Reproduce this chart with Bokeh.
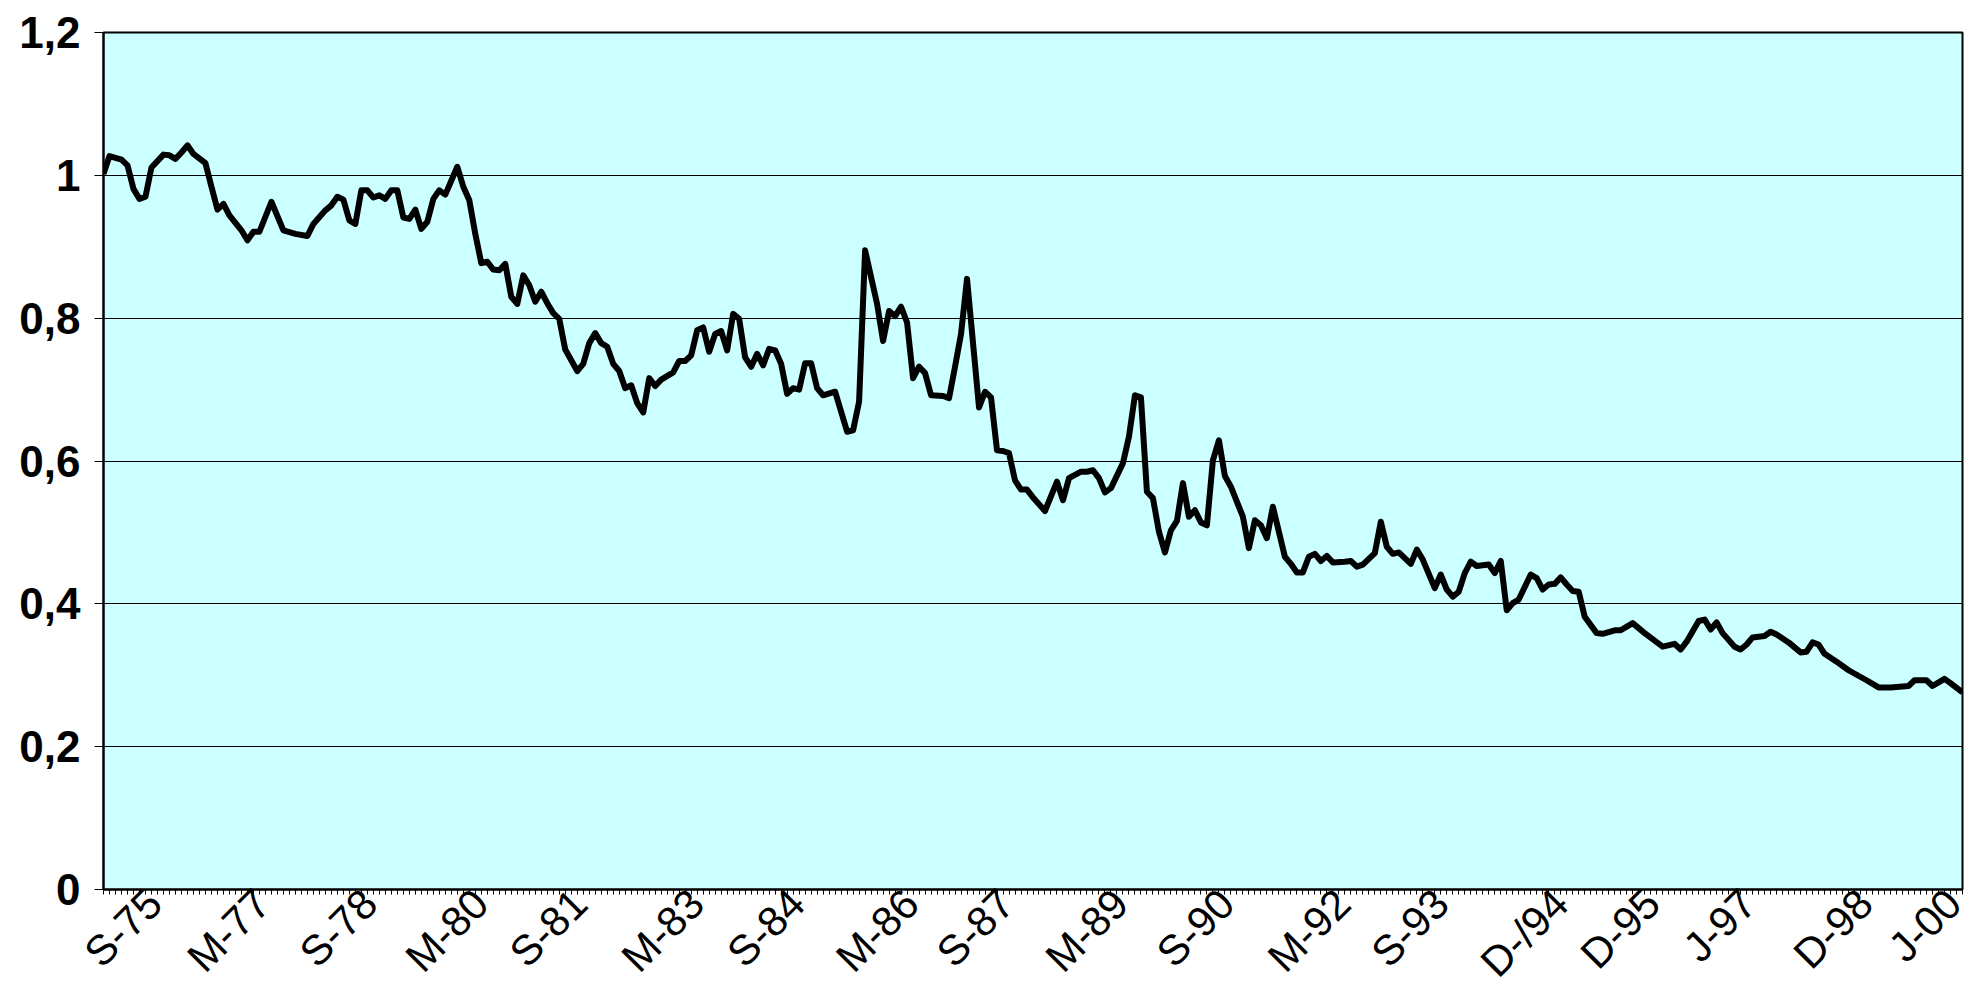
import math
from bokeh.plotting import figure
from bokeh.models import Range1d, FixedTicker, CustomJSTickFormatter
from bokeh.embed import file_html
from bokeh.resources import INLINE

# ---- data (category index along the axis, value) ----
month_idx = [0, 1, 3, 4, 5, 6, 7, 8, 10, 11, 12, 13, 14, 15, 17, 18, 19, 20, 21, 23,
             24, 25, 26, 28, 30, 32, 34, 35, 37, 38, 39, 40, 41, 42, 43, 44, 45, 46, 47, 48,
             49, 50, 51, 52, 53, 54, 55, 56, 57, 59, 60, 61, 62, 63, 64, 65, 66, 67, 68, 69,
             70, 71, 72, 73, 74, 75, 76, 77, 79, 80, 81, 82, 83, 84, 85, 86, 87, 88, 89, 90,
             91, 92, 93, 95, 96, 97, 98, 99, 100, 101, 102, 103, 104, 105, 106, 107, 108, 109, 110, 111,
             112, 113, 114, 115, 116, 117, 118, 119, 120, 122, 124, 125, 126, 127, 129, 130, 131, 132, 133, 134,
             135, 136, 137, 138, 140, 141, 142, 143, 144, 146, 147, 148, 149, 150, 151, 152, 153, 154, 155, 157,
             159, 160, 161, 163, 164, 165, 166, 167, 168, 170, 171, 172, 173, 174, 175, 176, 177, 178, 179, 180,
             181, 182, 183, 184, 185, 186, 187, 188, 190, 191, 192, 193, 194, 195, 197, 198, 199, 200, 201, 202,
             203, 204, 205, 207, 208, 209, 210, 212, 213, 214, 215, 216, 218, 219, 220, 222, 223, 224, 225, 226,
             227, 228, 229, 231, 232, 233, 234, 235, 236, 238, 239, 240, 241, 242, 243, 244, 245, 246, 247, 249,
             250, 252, 253, 255, 257, 260, 262, 263, 264, 266, 267, 268, 269, 270, 272, 273, 274, 275, 277, 278,
             279, 281, 283, 284, 285, 286, 287, 289, 291, 294, 296, 298, 301, 302, 304, 305, 307, 308, 310]

ratio = [1.002, 1.027, 1.022, 1.014, 0.981, 0.967, 0.970, 1.011, 1.029, 1.028, 1.023, 1.032, 1.042, 1.030, 1.017, 0.984, 0.952, 0.960, 0.944, 0.923,
         0.909, 0.921, 0.921, 0.963, 0.923, 0.918, 0.915, 0.932, 0.951, 0.958, 0.970, 0.966, 0.937, 0.932, 0.979, 0.979, 0.969, 0.972, 0.967, 0.979,
         0.979, 0.941, 0.939, 0.952, 0.925, 0.935, 0.967, 0.979, 0.973, 1.012, 0.984, 0.965, 0.918, 0.877, 0.879, 0.868, 0.867, 0.876, 0.830, 0.820,
         0.860, 0.846, 0.823, 0.837, 0.821, 0.807, 0.799, 0.756, 0.726, 0.736, 0.765, 0.779, 0.765, 0.760, 0.736, 0.726, 0.702, 0.706, 0.681, 0.668,
         0.716, 0.705, 0.714, 0.724, 0.740, 0.740, 0.748, 0.783, 0.787, 0.753, 0.778, 0.782, 0.755, 0.806, 0.799, 0.745, 0.732, 0.750, 0.734, 0.757,
         0.755, 0.736, 0.694, 0.702, 0.700, 0.737, 0.737, 0.702, 0.692, 0.697, 0.641, 0.643, 0.683, 0.895, 0.820, 0.768, 0.810, 0.803, 0.816, 0.794,
         0.716, 0.732, 0.723, 0.692, 0.691, 0.688, 0.732, 0.778, 0.855, 0.675, 0.697, 0.689, 0.615, 0.614, 0.611, 0.573, 0.560, 0.560, 0.549, 0.530,
         0.571, 0.545, 0.576, 0.585, 0.585, 0.587, 0.576, 0.556, 0.562, 0.597, 0.634, 0.692, 0.689, 0.557, 0.548, 0.501, 0.472, 0.503, 0.516, 0.569,
         0.522, 0.531, 0.514, 0.510, 0.601, 0.629, 0.579, 0.564, 0.522, 0.478, 0.517, 0.510, 0.492, 0.536, 0.466, 0.456, 0.444, 0.444, 0.466, 0.470,
         0.460, 0.467, 0.458, 0.459, 0.460, 0.452, 0.455, 0.471, 0.515, 0.480, 0.470, 0.472, 0.456, 0.476, 0.462, 0.422, 0.441, 0.420, 0.410, 0.417,
         0.443, 0.459, 0.453, 0.455, 0.443, 0.460, 0.391, 0.401, 0.406, 0.441, 0.436, 0.420, 0.427, 0.428, 0.437, 0.427, 0.418, 0.417, 0.382, 0.359,
         0.358, 0.363, 0.363, 0.373, 0.359, 0.340, 0.344, 0.336, 0.347, 0.376, 0.378, 0.364, 0.374, 0.359, 0.340, 0.336, 0.343, 0.353, 0.355, 0.361,
         0.357, 0.346, 0.332, 0.333, 0.346, 0.343, 0.330, 0.319, 0.307, 0.293, 0.283, 0.283, 0.285, 0.293, 0.293, 0.285, 0.295, 0.289, 0.276]

tick_labels = ["S-75", "M-77", "S-78", "M-80", "S-81", "M-83", "S-84", "M-86", "S-87",
               "M-89", "S-90", "M-92", "S-93", "D-/94", "D-95", "J-97", "D-98", "J-00"]
label_pos = [8.5, 26.5, 44.4, 62.9, 79.4, 98.9, 115.7, 134.7, 150.6,
             169.6, 187.3, 206.7, 223.1, 243.0, 258.3, 274.3, 293.8, 309.95]
category_ticks = list(range(0, 311))
y_ticks = [0, 0.2, 0.4, 0.6, 0.8, 1.0, 1.2]

p = figure(width=1970, height=1005, output_backend="svg", toolbar_location=None,
           x_range=Range1d(0, 310), y_range=Range1d(0, 1.2),
           min_border_left=103, min_border_right=8, min_border_top=32, min_border_bottom=116)
p.background_fill_color = "#CCFFFF"
p.border_fill_color = "white"
p.outline_line_color = "black"
p.outline_line_width = 2

p.line(month_idx, ratio, line_color="black", line_width=6, line_join="round")

# y axis
p.yaxis.ticker = FixedTicker(ticks=y_ticks)
p.yaxis.formatter = CustomJSTickFormatter(code="""
    const s = (Math.round(tick * 10) / 10).toString();
    return s.replace('.', ',');
""")
p.yaxis.major_label_text_font = "Liberation Sans"
p.yaxis.major_label_text_font_style = "bold"
p.yaxis.major_label_text_font_size = "44px"
p.yaxis.major_label_text_color = "black"
p.yaxis.major_tick_out = 9
p.yaxis.major_tick_in = 0
p.yaxis.minor_tick_out = 0
p.yaxis.minor_tick_in = 0
p.yaxis.major_tick_line_color = "black"
p.yaxis.axis_line_color = "black"
p.yaxis.axis_line_width = 2
p.yaxis.major_label_standoff = 14

# x axis: labelled positions + one small tick per category
p.xaxis.ticker = FixedTicker(ticks=label_pos, minor_ticks=category_ticks)
p.xaxis.formatter = CustomJSTickFormatter(args=dict(pos=label_pos, labels=tick_labels), code="""
    let best = 0, d = 1e9;
    for (let k = 0; k < pos.length; k++) {
        const e = Math.abs(pos[k] - tick);
        if (e < d) { d = e; best = k; }
    }
    return labels[best];
""")
p.xaxis.major_label_orientation = math.pi / 4
p.xaxis.major_label_text_font = "Liberation Sans"
p.xaxis.major_label_text_font_size = "42px"
p.xaxis.major_label_text_color = "black"
p.xaxis.major_label_text_baseline = "top"
p.xaxis.major_tick_out = 0
p.xaxis.major_tick_in = 0
p.xaxis.major_tick_line_color = None
p.xaxis.minor_tick_out = 5
p.xaxis.minor_tick_in = 0
p.xaxis.minor_tick_line_color = "black"
p.xaxis.axis_line_color = "black"
p.xaxis.axis_line_width = 2
p.xaxis.major_label_standoff = 2

p.xgrid.visible = False
p.ygrid.grid_line_color = "black"
p.ygrid.grid_line_width = 1

open("out.html", "w").write(file_html(p, INLINE))
